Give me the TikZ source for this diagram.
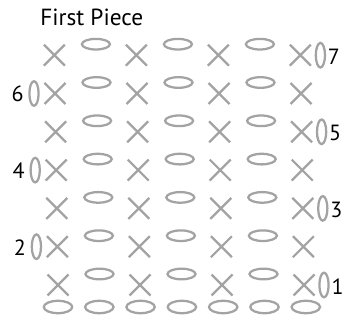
\documentclass[tikz,border=0pt]{standalone}
\usepackage{fontspec}
\setmainfont{PT Sans}
\definecolor{stitch}{RGB}{163,163,163}
\tikzset{
  px/.style={x=0.75pt,y=-0.75pt},
  stroke/.style={draw=stitch,line width=1.7pt},
  numlabel/.style={font=\fontsize{16.5}{18}\selectfont,inner sep=0pt,text=black},
  titlelabel/.style={font=\fontsize{17.5}{19}\selectfont,inner sep=0pt,text=black},
}
\begin{document}
\begin{tikzpicture}[px]
\useasboundingbox (0,0) rectangle (346,320);
\node[titlelabel,anchor=base west] (title) at (40,25.5) {First Piece};
\foreach \r in {1,...,7}{
  \pgfmathsetmacro{\yr}{285-(\r-1)*38.3}
  \pgfmathsetmacro{\xr}{58-(\r-1)*0.6}
  \foreach \k in {0,...,3}{
    \draw[stroke] ({\xr+82*\k-10.5},{\yr-10.5}) -- ({\xr+82*\k+10.5},{\yr+10.5})
                  ({\xr+82*\k-10.5},{\yr+10.5}) -- ({\xr+82*\k+10.5},{\yr-10.5});
  }
  \foreach \k in {0,...,2}{
    \draw[stroke] ({\xr+41.5+82*\k},{\yr-11}) ellipse [x radius=14,y radius=5.3];
  }
  \pgfmathparse{mod(\r,2)==1 ? 1 : 0}
  \ifnum\pgfmathresult=1
    \draw[stroke] ({\xr+266},{\yr}) ellipse [x radius=4.6,y radius=12.3];
    \node[numlabel] (n\r) at ({\xr+279.5},{\yr+1.5}) {\r};
  \else
    \draw[stroke] ({\xr-21},{\yr}) ellipse [x radius=4.6,y radius=12.3];
    \node[numlabel] (n\r) at ({\xr-37.5},{\yr+0.5}) {\r};
  \fi
}
\foreach \k in {0,...,6}{
  \draw[stroke] ({58+41.3*\k},307) ellipse [x radius=14.2,y radius=6.2];
}
\end{tikzpicture}
\end{document}
